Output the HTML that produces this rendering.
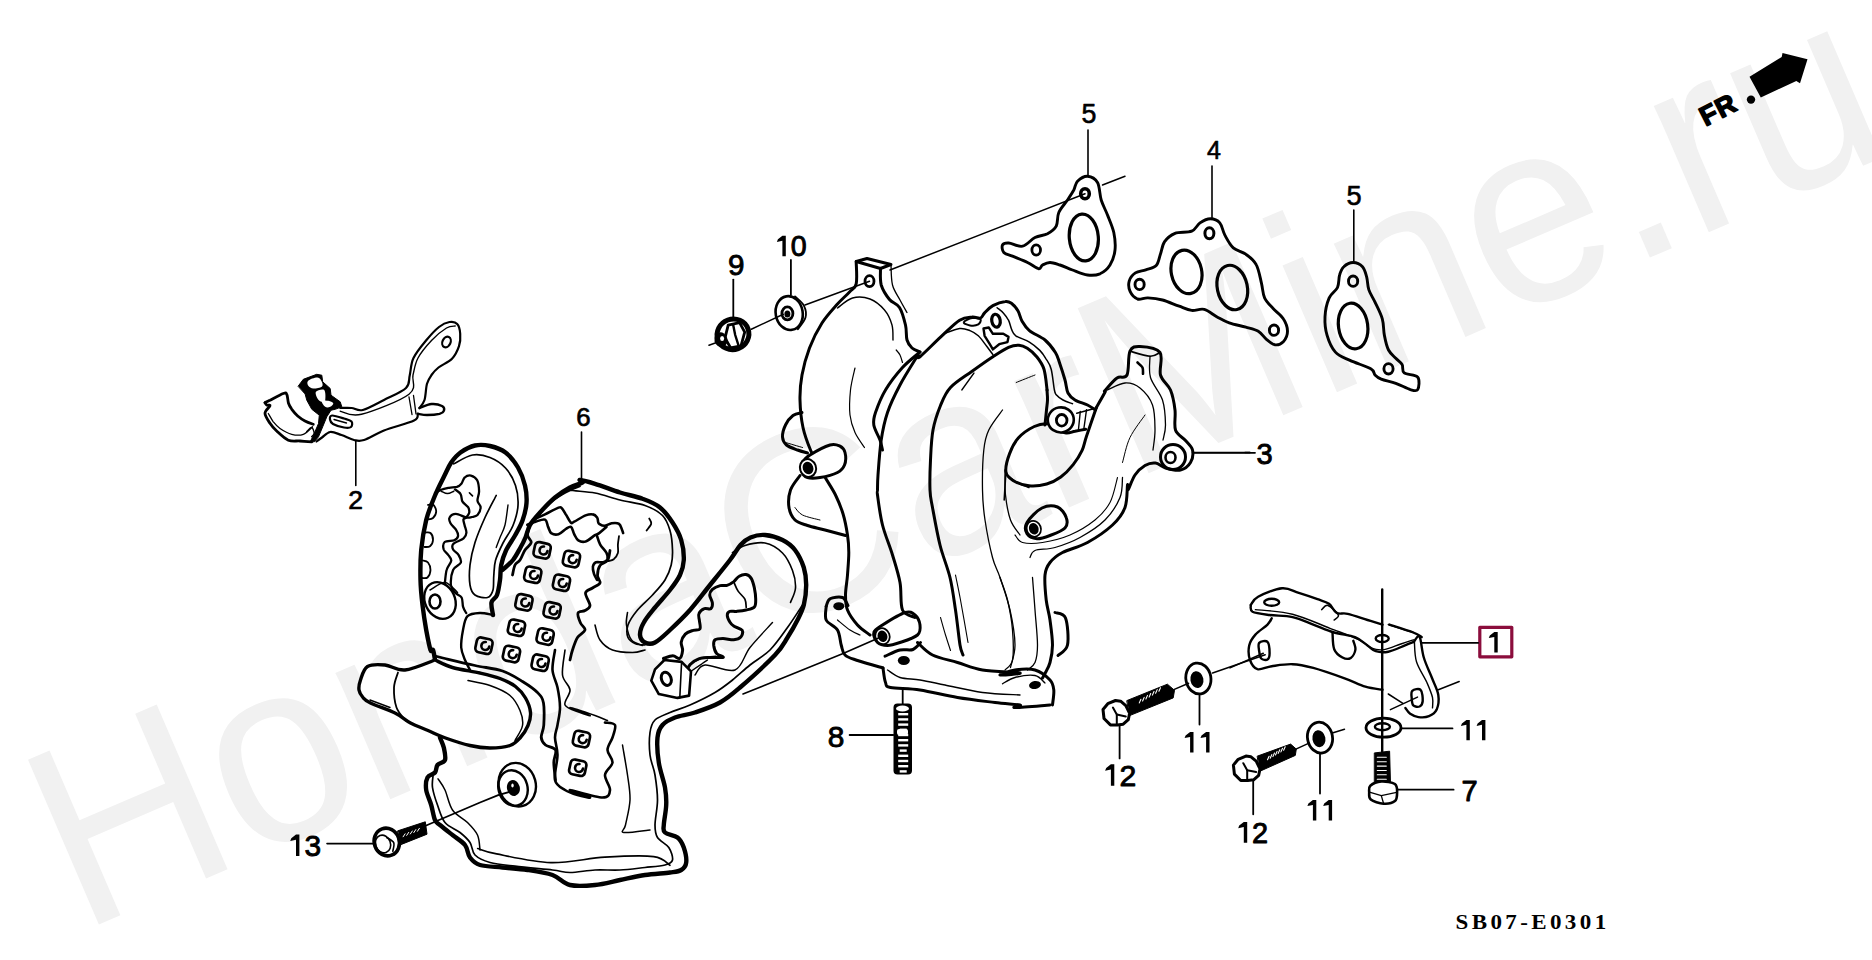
<!DOCTYPE html>
<html><head><meta charset="utf-8"><style>
html,body{margin:0;padding:0;background:#fff;width:1872px;height:960px;overflow:hidden}
svg{display:block}
text{font-family:"Liberation Sans",sans-serif;fill:#000;stroke:none}
</style></head><body>
<svg width="1872" height="960" viewBox="0 0 1872 960">
<rect width="1872" height="960" fill="#fff"/>
<g fill="none" stroke="#000" stroke-linecap="round" stroke-linejoin="round">
<g id="watermark"><text x="0" y="0" font-size="250.7" style="fill:#f1f1f1" transform="translate(80,932.7) rotate(-23.27) scale(1,1.04)">HondaCarMine.ru</text></g>
<g id="misc"><text x="1089" y="123" font-size="26.8" text-anchor="middle" style="stroke:#000;stroke-width:0.6">5</text>
<text x="1214" y="159" font-size="25.1" text-anchor="middle" style="stroke:#000;stroke-width:0.6">4</text>
<text x="1354" y="204.5" font-size="27.2" text-anchor="middle" style="stroke:#000;stroke-width:0.6">5</text>
<line x1="1088" y1="130" x2="1088" y2="176" stroke-width="1.6"/>
<line x1="1212" y1="166" x2="1212" y2="219" stroke-width="1.6"/>
<line x1="1353.8" y1="210" x2="1353.8" y2="263" stroke-width="1.6"/>
<text x="0" y="0" transform="translate(1455.5,928.6) scale(1.15,1)" style="font-family:'Liberation Serif',serif;font-weight:bold;font-size:20px;letter-spacing:2.95px">SB07-E0301</text>
<path d="M1749.5 76.7 L1781.7 57 L1782.5 53 L1807.5 59.2 L1800 83.3 L1796.3 81 L1760.8 97.5Z" fill="#000" stroke="none"/>
<text x="0" y="0" font-size="27" transform="translate(1705.5,126.5) rotate(-27)" style="font-weight:bold;stroke:#000;stroke-width:1.6;letter-spacing:1px">FR</text>
<ellipse cx="1751" cy="99.6" rx="4.2" ry="4.2" fill="#000" stroke="none"/></g>
<g id="gaskets"><path d="M1087.5 176.2C1090.8 176.5 1095.2 178.5 1097.5 182.5C1099.8 186.5 1099.6 194.6 1101.2 200C1102.9 205.4 1105.4 209.6 1107.5 215C1109.6 220.4 1112.5 226.7 1113.8 232.5C1115 238.3 1115.6 244.6 1115 250C1114.4 255.4 1112.5 261 1110 265C1107.5 269 1103.8 272.1 1100 273.8C1096.2 275.4 1092.1 275.6 1087.5 275C1082.9 274.4 1077.1 271.7 1072.5 270C1067.9 268.3 1063.8 266.2 1060 265C1056.2 263.8 1052.9 262.5 1050 262.5C1047.1 262.5 1044.4 264 1042.5 265C1040.6 266 1041.2 269.2 1038.8 268.8C1036.2 268.3 1031.9 264.6 1027.5 262.5C1023.1 260.4 1016.5 257.9 1012.5 256.2C1008.5 254.6 1005.4 254.4 1003.8 252.5C1002.1 250.6 1001.7 246.6 1002.5 245C1003.3 243.4 1005.4 242.8 1008.8 243C1012.1 243.2 1018.1 247.2 1022.5 246.2C1026.9 245.3 1030.8 239.6 1035 237.5C1039.2 235.4 1044 235.6 1047.5 233.8C1051 231.9 1054.4 229.8 1056.2 226.2C1058.1 222.7 1056.9 216.9 1058.8 212.5C1060.6 208.1 1065 203.8 1067.5 200C1070 196.2 1072.1 193.1 1073.8 190C1075.4 186.9 1075.2 183.5 1077.5 181.2C1079.8 179 1084.2 176 1087.5 176.2Z" stroke-width="2.9"/>
<ellipse cx="1083.8" cy="237.5" rx="14.5" ry="23.5" stroke-width="3.2" transform="rotate(-5 1083.8 237.5)"/>
<ellipse cx="1085" cy="193.8" rx="4.3" ry="5" stroke-width="3.6"/>
<ellipse cx="1036.2" cy="250" rx="4.3" ry="5.2" stroke-width="2.8"/>
<path d="M1210.4 218.8C1213.7 218.8 1217.4 220.1 1219.8 222.9C1222.2 225.7 1222.7 231.2 1225 235.4C1227.3 239.6 1229.9 244.8 1233.3 247.9C1236.8 251 1242 251.4 1245.8 254.2C1249.7 256.9 1253.6 259.7 1256.2 264.6C1258.9 269.4 1260.1 277.8 1261.5 283.3C1262.8 288.9 1262.7 293.8 1264.6 297.9C1266.5 302.1 1269.8 304.9 1272.9 308.3C1276 311.8 1280.9 314.9 1283.3 318.8C1285.8 322.6 1287.5 327.4 1287.5 331.2C1287.5 335.1 1285.4 339.4 1283.3 341.7C1281.2 343.9 1277.8 345.1 1275 344.8C1272.2 344.4 1269.4 341.8 1266.7 339.6C1263.9 337.3 1261.8 333.3 1258.3 331.2C1254.9 329.2 1250.7 328.5 1245.8 327.1C1241 325.7 1234 324.7 1229.2 322.9C1224.3 321.2 1220.8 318.9 1216.7 316.7C1212.5 314.4 1208.3 310.4 1204.2 309.4C1200 308.3 1195.8 310.9 1191.7 310.4C1187.5 309.9 1184 308 1179.2 306.2C1174.3 304.5 1167.7 301.4 1162.5 300C1157.3 298.6 1152.1 298.1 1147.9 297.9C1143.8 297.7 1140.5 300 1137.5 299C1134.5 297.9 1131.6 294.6 1130.2 291.7C1128.8 288.7 1128.3 284.4 1129.2 281.2C1130 278.1 1132.6 274.8 1135.4 272.9C1138.2 271 1142.4 271 1145.8 269.8C1149.3 268.6 1153.8 268.2 1156.2 265.6C1158.7 263 1159 258.2 1160.4 254.2C1161.8 250.2 1162.2 245.1 1164.6 241.7C1167 238.2 1170.5 235.1 1175 233.3C1179.5 231.6 1187.5 233 1191.7 231.2C1195.8 229.5 1196.9 225 1200 222.9C1203.1 220.8 1207.1 218.8 1210.4 218.8Z" stroke-width="2.9"/>
<ellipse cx="1209.4" cy="233.3" rx="4.5" ry="5.5" stroke-width="3"/>
<ellipse cx="1139.6" cy="284.4" rx="4.6" ry="5.2" stroke-width="2.9"/>
<ellipse cx="1274" cy="330.2" rx="4.6" ry="5.2" stroke-width="2.9"/>
<ellipse cx="1186.5" cy="271.9" rx="15.2" ry="22" stroke-width="3.2" transform="rotate(-12 1186.5 271.9)"/>
<ellipse cx="1232.3" cy="287.5" rx="15" ry="22.5" stroke-width="3.2" transform="rotate(-12 1232.3 287.5)"/>
<path d="M1353.1 262.5C1356.2 262.5 1360.2 264.2 1362.5 266.7C1364.8 269.1 1365.6 273.3 1366.7 277.1C1367.7 280.9 1367.4 285.4 1368.8 289.6C1370.1 293.8 1372.7 297.2 1375 302.1C1377.3 306.9 1380.7 313.2 1382.3 318.8C1383.9 324.3 1383.3 330.2 1384.4 335.4C1385.4 340.6 1386.6 346.2 1388.5 350C1390.5 353.8 1393.6 355.9 1395.8 358.3C1398.1 360.8 1400.7 362.2 1402.1 364.6C1403.5 367 1401.6 370.8 1404.2 372.9C1406.8 375 1415.5 374.3 1417.7 377.1C1420 379.9 1418.9 387.5 1417.7 389.6C1416.5 391.7 1414.1 390.6 1410.4 389.6C1406.8 388.5 1400.7 385.1 1395.8 383.3C1391 381.6 1384.7 380.6 1381.2 379.2C1377.8 377.8 1376.7 376.7 1375 375C1373.3 373.3 1375 371.2 1370.8 368.8C1366.7 366.3 1355.9 363.2 1350 360.4C1344.1 357.6 1339.2 356.3 1335.4 352.1C1331.6 347.9 1328.8 341.3 1327.1 335.4C1325.3 329.5 1324.7 322.9 1325 316.7C1325.3 310.4 1327.1 302.8 1329.2 297.9C1331.2 293.1 1335.8 291.3 1337.5 287.5C1339.2 283.7 1338.5 278.5 1339.6 275C1340.6 271.5 1341.5 268.8 1343.8 266.7C1346 264.6 1350 262.5 1353.1 262.5Z" stroke-width="2.9"/>
<ellipse cx="1353.1" cy="281.2" rx="4.6" ry="5.2" stroke-width="2.9"/>
<ellipse cx="1388.5" cy="368.8" rx="4.6" ry="5.2" stroke-width="2.9"/>
<ellipse cx="1353.1" cy="326" rx="14.6" ry="23" stroke-width="3.2" transform="rotate(-8 1353.1 326)"/></g>
<g id="part2"><path d="M340.2 408C342.1 408 347.8 407.7 351.5 408C355.2 408.3 357.3 411.3 362.8 410C368.2 408.7 376.8 403.7 384 400C391.2 396.3 401.7 392.2 406 388C410.3 383.8 408.5 380 409.8 375C411 370 410.7 363.8 413.5 358C416.3 352.2 422.2 345.2 426.5 340C430.8 334.8 435.2 330 439 327C442.8 324 446.5 322.5 449.5 322C452.5 321.5 455.5 322 457.2 324C459 326 460 330 460.2 333.8C460.5 337.5 460.4 342.1 459 346.2C457.6 350.4 455.4 355.2 452 358.8C448.6 362.3 441.9 364.8 438.5 367.5C435.1 370.2 433.4 372.3 431.5 375C429.6 377.7 428.2 379.6 427 383.8C425.8 387.9 425.8 396 424.5 400C423.2 404 420.3 406.7 419.5 408" stroke-width="2.2"/>
<path d="M419.5 408C421.5 407.3 427.8 404.3 431.5 404C435.2 403.7 439.9 404.9 442 406C444.1 407.1 444.4 409.2 444 410.5C443.6 411.8 442.3 413 439.5 413.8C436.7 414.5 430.6 415 427 415C423.4 415 419.3 414 417.8 413.8" stroke-width="2.4"/>
<path d="M417.8 413.8C417.1 414.9 419.6 417.7 414 420.5C408.4 423.3 392.3 427.2 384 430.5C375.7 433.8 369 438.4 364 440C359 441.6 357.8 440.8 354 440C350.2 439.2 345.5 436.3 341.5 435C337.5 433.7 333.5 431.6 330.2 432C327 432.4 324.3 435.9 322 437.5C319.7 439.1 317.4 440.8 316.5 441.5" stroke-width="2.2"/>
<path d="M340.2 411.2C343.8 411.8 350 417.1 361.5 414.2C373 411.4 400.4 400.8 409 394.2C417.6 387.7 411.5 381 413 375C414.5 369 414.9 363.8 418 358C421.1 352.2 426.8 345.5 431.5 340.5C436.2 335.5 442.5 330.4 446.5 328C450.5 325.6 453.8 326.3 455.2 326" stroke-width="1.4"/>
<path d="M409 397C409.5 399.9 411.5 411.6 412 414.5" stroke-width="1.3"/>
<path d="M413.5 395.5C413.9 398.5 415.6 410.7 416 413.8" stroke-width="1.3"/>
<ellipse cx="446.5" cy="342" rx="4" ry="5.5" stroke-width="2.2" transform="rotate(25 446.5 342)"/>
<path d="M265 402.7C265.8 402.2 266.9 401.7 270 400.2C273.1 398.6 280.5 394.5 283.3 393.5C286.1 392.5 286 392.7 286.8 394.3C287.7 396 287.7 400.8 288.5 403.3C289.3 405.8 290.3 407.2 291.8 409.3C293.4 411.4 295.5 414.1 297.7 416C299.9 417.9 302.4 419.6 305 421C307.6 422.4 311.9 423.8 313.3 424.3" stroke-width="2.8"/>
<path d="M265 402.7C265.3 403.1 265.8 404.5 266.7 405C267.5 405.5 270.3 404.4 270 405.8C269.7 407.2 265 410.4 265 413.3C265 416.2 268.1 420.4 270 423.3C271.9 426.3 273.6 428.2 276.7 431C279.7 433.8 284.4 438.5 288.3 440.2C292.2 441.8 296.1 440.7 300 441C303.9 441.3 309.7 441.7 311.7 441.8" stroke-width="2.8"/>
<path d="M268.3 413.5C269.2 414.9 271.4 419.3 273.3 421.8C275.3 424.3 276.9 426.4 280 428.5C283.1 430.6 287.8 433.4 291.7 434.3C295.6 435.3 299.9 435.6 303.3 434.3C306.8 433.1 311 428.1 312.5 426.8" stroke-width="1.3"/>
<path d="M306.7 431.7C307.5 431 310.4 427.2 311.7 427.5C312.9 427.8 314.2 431.8 314.2 433.3C314.2 434.9 312.1 436.1 311.7 436.7" stroke-width="1.4"/>
<path d="M298.3 386 L303.3 379.3 L316.7 374.3 L321.8 375.2 L322.7 381.8 L330.2 388.5 L331 395.2 L340.2 401.8 L341.8 406.8 L335.2 409.3 L331 410.2 L326.8 416.8 L322.7 426.8 L318.5 436.8 L314.3 441.8 L310.2 441.8 L313.5 435.2 L318.5 423.5 L319.3 415.2 L311.8 409.3 L306.8 400.2 L305.2 394.3Z" fill="#000" stroke-width="1"/>
<path d="M308.2 380.7C309.7 379.3 315.2 377.3 317.5 377.5C319.8 377.7 321.1 380.1 321.8 381.7C322.6 383.2 323.2 385.5 321.8 386.7C320.4 387.8 315.6 388.6 313.3 388.5C311.1 388.4 309.2 387.1 308.3 385.8C307.5 384.5 306.6 382.1 308.2 380.7Z" fill="#fff" stroke="none"/>
<path d="M316 391.8C317.1 390.4 322.6 388.6 324.2 390C325.7 391.4 325.6 398.2 325.2 400.2C324.8 402.1 322.9 402.1 321.7 401.8C320.4 401.6 318.4 400.2 317.5 398.5C316.6 396.8 314.9 393.2 316 391.8Z" fill="#fff" stroke="none"/>
<path d="M321.8 401C322.5 400 327.2 400.6 329.2 401C331.1 401.4 333.2 402.5 333.3 403.5C333.5 404.5 331.5 406.3 330.2 406.8C328.8 407.4 326.6 407.8 325.2 406.8C323.8 405.9 321.2 402 321.8 401Z" fill="#fff" stroke="none"/>
<path d="M307.9 391.2 L311.7 400.8" stroke-width="1.2"/>
<path d="M332 415.5C334.3 415.3 340.8 417.5 344 418.5C347.2 419.5 350.3 420.1 351.5 421.5C352.7 422.9 352.2 426 351 427C349.8 428 347 428 344 427.5C341 427 335.3 425.3 333 424C330.7 422.7 330.2 420.9 330 419.5C329.8 418.1 329.7 415.7 332 415.5Z" stroke-width="2.2"/>
<path d="M334 419.5C336.1 420.1 344.4 422.4 346.5 423" stroke-width="1.3"/>
<line x1="355.8" y1="440.5" x2="355.8" y2="485.5" stroke-width="1.6"/>
<text x="355.5" y="509" font-size="26.5" text-anchor="middle" style="stroke:#000;stroke-width:0.7">2</text></g>
<g id="manifold"><path d="M856.2 261.5 L867 258.5 L891 264.5 L880.5 268.5Z" stroke-width="3"/>
<path d="M856.2 261.5C856.2 265.2 857.4 278.7 856.2 283.8C855.1 288.8 852.7 288.5 849.5 292C846.3 295.5 841.6 299.3 837 304.5C832.4 309.7 826.6 315.8 822 323C817.4 330.2 812.8 339.3 809.5 348C806.2 356.7 803.6 366.3 802 375C800.4 383.7 799.8 391.2 800 400C800.2 408.8 801.2 419.2 803 427.5C804.8 435.8 807.7 443.3 810.5 450C813.3 456.7 817.5 462.8 820 467.5C822.5 472.2 822.9 473.4 825.5 478C828.1 482.6 832.6 489 835.5 495C838.4 501 841 507.1 843 513.8C845 520.4 846.5 528.5 847.5 535C848.5 541.5 848.8 545.8 848.8 552.5C848.8 559.2 848 567.9 847.5 575C847 582.1 845.5 589.2 845.5 595C845.5 600.8 845.5 605 847.5 610C849.5 615 853.8 620.8 857.5 625C861.2 629.2 867.9 633.3 870 635" stroke-width="3"/>
<path d="M880.5 268.5C880.6 271.2 879.8 279.8 881.2 285C882.8 290.2 886.5 295.8 889.5 299.5C892.5 303.2 896.8 303.2 899.5 307.5C902.2 311.8 904.2 319.6 905.5 325C906.8 330.4 905.9 336.2 907 340C908.1 343.8 909.8 346 912 348C914.2 350 918.7 351.3 920 352" stroke-width="3"/>
<path d="M891 264.5C891.2 267.9 891 279.1 892.5 285C894 290.9 897.6 295.4 900 300C902.4 304.6 905.8 310.4 907 312.5" stroke-width="1.3"/>
<ellipse cx="869.5" cy="281.2" rx="4.5" ry="5.5" stroke-width="2.8"/>
<path d="M837.5 308C840 306.3 847.1 299.5 852.5 298C857.9 296.5 864.7 297 870 299C875.3 301 880.8 305.7 884.5 310C888.2 314.3 890.6 320 892 325C893.4 330 892.8 337.5 893 340" stroke-width="1.4"/>
<path d="M896.2 350C896.9 350.8 899 352.9 900 355C901 357.1 902.1 361.2 902.5 362.5" stroke-width="1.2"/>
<path d="M855 368C854.2 371.7 851.3 382.2 850.5 390C849.7 397.8 849.2 407.9 850 415C850.8 422.1 852.6 427.1 855 432.5C857.4 437.9 862.9 445 864.5 447.5" stroke-width="1.2"/>
<path d="M920 352C917.1 354.6 908.2 361.2 902.5 367.5C896.8 373.8 890 382.5 885.5 390C881 397.5 877.5 406.7 875.5 412.5C873.5 418.3 873 420.4 873.8 425C874.5 429.6 878.5 435.8 880 440C881.5 444.2 882.1 448.3 882.5 450" stroke-width="3"/>
<path d="M802 412.5C800.5 413 795.8 413.4 793 415.5C790.2 417.6 787.2 421.4 785.5 425C783.8 428.6 782.3 433.7 782.5 437C782.7 440.3 784 442.8 786.5 445C789 447.2 794 448.7 797.5 450C801 451.3 805.8 452.5 807.5 453" stroke-width="3"/>
<path d="M785.5 442.5C788.3 443.3 799.7 446.7 802.5 447.5" stroke-width="1"/>
<path d="M802.5 462.5C803.9 459.8 805.4 457.9 810 455C814.6 452.1 825 446.5 830 445C835 443.5 837.5 445 840 446.2C842.5 447.5 844.2 449.4 845 452.5C845.8 455.6 845.8 461.7 844.5 465C843.2 468.3 841.6 470.4 837.5 472.5C833.4 474.6 825 476.7 820 477.5C815 478.3 810.6 478.5 807.5 477.5C804.4 476.5 802.3 473.8 801.5 471.2C800.7 468.8 801.1 465.2 802.5 462.5Z" fill="#fff" stroke-width="3"/>
<ellipse cx="808" cy="468" rx="9" ry="10" fill="#000" stroke="none" transform="rotate(-20 808 468)"/>
<ellipse cx="808" cy="468" rx="7" ry="8" fill="#fff" stroke="none" transform="rotate(-20 808 468)"/>
<ellipse cx="808" cy="468" rx="5.3" ry="6.3" fill="#000" stroke="none" transform="rotate(-20 808 468)"/>
<path d="M800 475.5C798.4 477.9 792.3 484.7 790.5 490C788.7 495.3 788.2 502.5 789 507.5C789.8 512.5 791.9 517 795 520C798.1 523 802.5 523.8 807.5 525.5C812.5 527.2 818.7 528.3 825 530C831.3 531.7 842.1 534.6 845.5 535.5" stroke-width="3"/>
<path d="M795 507.5C796.2 508.8 798.3 512.9 802.5 515C806.7 517.1 817.1 519.2 820 520" stroke-width="1"/>
<path d="M918 355C918.3 355.3 916.2 359.7 920 356.7C923.8 353.6 934.2 343 940.8 336.9C947.4 330.8 954.4 323.5 959.6 320.2C964.8 316.9 968.6 317.4 972.1 317.1C975.6 316.7 978.3 318.8 980.4 318.1C982.5 317.4 982.5 315 984.6 312.9C986.7 310.8 989.4 307.5 992.9 305.6C996.4 303.7 1002.3 301.8 1005.4 301.5C1008.5 301.1 1009.6 302 1011.7 303.5C1013.8 305.1 1016.2 307.9 1017.9 310.8C1019.7 313.8 1020.2 318 1022.1 321.2C1024 324.5 1025.6 327.5 1029.4 330.6C1033.2 333.8 1040.7 336.4 1045 340C1049.3 343.6 1053 348.7 1055.4 352.5C1057.8 356.3 1058 358.3 1059.6 362.9C1061.2 367.5 1063.6 375 1065 380C1066.4 385 1066.3 389.7 1068 393C1069.7 396.3 1071.8 398 1075 400C1078.2 402 1084.1 403.3 1087.5 405C1090.9 406.7 1094.2 409.2 1095.5 410" stroke-width="3"/>
<path d="M963.8 322.3C964.1 321.1 969.3 318.6 972.1 318.1C974.9 317.6 979.4 318.1 980.4 319.2C981.5 320.2 980.1 323.3 978.3 324.4C976.6 325.4 972.4 325.8 970 325.4C967.6 325.1 963.4 323.5 963.8 322.3Z" stroke-width="2"/>
<path d="M944 333.8C946.6 332.9 955.2 329.1 959.6 328.5C963.9 328 966.9 329.4 970 330.6C973.1 331.8 975.6 333.2 978.3 335.8C981.1 338.4 984.2 343.1 986.7 346.2C989.1 349.4 991.9 353.2 992.9 354.6" stroke-width="1.5"/>
<path d="M997.1 307.7C998.1 308.6 1001.4 310.8 1003.3 312.9C1005.2 315 1007.2 317.4 1008.5 320.2C1009.9 323 1010.5 327 1011.7 329.6C1012.9 332.2 1012.9 333.8 1015.8 335.8C1018.8 337.9 1025.4 339.7 1029.4 342.1C1033.4 344.5 1037 347.6 1039.8 350.4C1042.6 353.2 1044.1 355.6 1046 358.8C1048 361.9 1049.9 364 1051.2 369.2C1052.6 374.4 1053.5 385.7 1054.4 390C1055.2 394.3 1055.1 393.3 1056.5 395C1057.9 396.7 1060.3 398.5 1063 400C1065.7 401.5 1070.9 403.1 1072.5 403.8" stroke-width="1.5"/>
<ellipse cx="996" cy="320.7" rx="4.2" ry="6.5" stroke-width="3.2" transform="rotate(-10 996 320.7)"/>
<path d="M983.5 328.5 L988.8 327.5 L992.9 333.8 L1003.3 333.8 L1008.5 336.9 L1007.5 342.1 L999.2 344.2 L992.9 349.4 L989.8 344.2 L984.6 335.8Z" stroke-width="2.4"/>
<path d="M918 355C915 360 905.1 375.4 900 385C894.9 394.6 890.6 403.3 887.5 412.5C884.4 421.7 882.8 429.6 881.2 440C879.7 450.4 878.6 466.7 878 475C877.4 483.3 877.6 486.7 877.5 490C877.4 493.3 876.7 489.2 877.5 495C878.3 500.8 880 515 882.5 525C885 535 889.6 545.4 892.5 555C895.4 564.6 898.3 573.3 900 582.5C901.7 591.7 900 604.2 902.5 610C905 615.8 912.9 616.2 915 617.5" stroke-width="3"/>
<path d="M1047.1 390C1046.6 386.5 1045.7 374.7 1044 369.2C1042.2 363.6 1039.4 360.1 1036.7 356.7C1033.9 353.2 1030.2 350.2 1027.3 348.3C1024.3 346.4 1022.1 345.4 1019 345.2C1015.8 345 1012.9 345.4 1008.5 347.3C1004.2 349.2 999 352.7 992.9 356.7C986.8 360.7 979.2 366.1 972.1 371.2C965 376.4 955.8 381.8 950.5 387.5C945.2 393.2 943.4 398.4 940.5 405.5C937.6 412.6 934.7 420.9 933 430C931.3 439.1 931 450 930.5 460C930 470 929.7 482.1 930 490C930.3 497.9 930.8 498.3 932.5 507.5C934.2 516.7 937.1 533.3 940 545C942.9 556.7 947.4 566.7 950 577.5C952.6 588.3 953.8 598.8 955.5 610C957.2 621.2 958.8 637.5 960 645C961.2 652.5 962.5 653.3 963 655" stroke-width="3"/>
<path d="M961.8 390C963.8 387.2 972 375.8 974 373" stroke-width="1.3"/>
<path d="M1002.5 410C1000.2 413.3 991.9 423.3 988.8 430C985.6 436.7 984.8 440 983.8 450C982.7 460 982.3 478.3 982.5 490C982.7 501.7 983.3 508.8 985 520C986.7 531.2 990 547.9 992.5 557.5C995 567.1 997.1 568.8 1000 577.5C1002.9 586.2 1007.5 598.8 1010 610C1012.5 621.2 1014.9 635.4 1015 645C1015.1 654.6 1011.2 663.8 1010.5 667.5" stroke-width="1.3"/>
<path d="M1005 470C1005.1 474.2 1004.6 486.7 1005.5 495C1006.4 503.3 1008.1 513.3 1010.5 520C1012.9 526.7 1018.4 532.5 1020 535" stroke-width="1.3"/>
<path d="M955.5 575C956.3 579.2 958.4 588.8 960.5 600C962.6 611.2 966.8 635.4 968 642.5" stroke-width="1.1"/>
<path d="M940.5 617.5C941.3 620.4 943.8 629.5 945.5 635C947.2 640.5 949.7 647.9 950.5 650.5" stroke-width="1.1"/>
<path d="M1047 390C1047.1 391.7 1047.6 396.7 1047.5 400C1047.4 403.3 1046.9 405.8 1046.5 410C1046.1 414.2 1045.2 422.5 1045 425" stroke-width="3"/>
<path d="M1016.2 382.5C1019.4 381.2 1031.9 376.2 1035 375" stroke-width="1"/>
<path d="M1096.2 407.9C1094.6 412.6 1088.9 429.2 1086.5 436.2C1084.1 443.3 1084.3 445.7 1082.1 450.4C1079.9 455.1 1076.8 460.1 1073.2 464.6C1069.7 469 1065.2 473.7 1060.8 477C1056.4 480.2 1052 482.6 1046.7 484C1041.3 485.5 1034.6 486.4 1029 485.8C1023.3 485.2 1016.9 482.9 1013 480.5C1009.2 478.1 1006.5 476.1 1005.9 471.6C1005.3 467.2 1007.4 459.5 1009.5 453.9C1011.5 448.3 1014.2 442.6 1018.3 438C1022.5 433.4 1029.2 428.9 1034.3 426.5C1039.3 424.1 1044.9 423.4 1048.4 423.8C1052 424.3 1052.6 427.6 1055.5 429.2C1058.5 430.7 1062.9 432.7 1066.1 433C1069.4 433.4 1071.7 431.9 1075 431.3C1078.2 430.6 1083.8 429.5 1085.6 429.2" stroke-width="3"/>
<path d="M1005.9 471.6C1005.6 476.4 1004.5 495.3 1004.2 500" stroke-width="1.6"/>
<path d="M1007.7 475.2C1009.2 476.4 1013 480.2 1016.6 482.3C1020.1 484.3 1026.9 486.7 1029 487.6" stroke-width="1.4"/>
<ellipse cx="1060.8" cy="419.9" rx="13" ry="12.5" fill="#fff" stroke-width="2.6" transform="rotate(-10 1060.8 419.9)"/>
<ellipse cx="1061.7" cy="420.3" rx="5.3" ry="5.8" stroke-width="2.8"/>
<path d="M1076.8 413.2C1079.6 412.5 1090.8 409.5 1093.6 408.8" stroke-width="1.6"/>
<path d="M1080.3 411.4C1080 414.4 1078.8 426.2 1078.5 429.2" stroke-width="1.4"/>
<path d="M1086.5 409.7C1086.1 412.9 1084.3 425.9 1083.8 429.2" stroke-width="1.4"/>
<path d="M1096.2 407.9C1097.7 405.2 1103.6 394.9 1105.1 392C1106.5 389.1 1103 392.8 1105 390.5C1107 388.2 1113.3 380.6 1117 378C1120.7 375.4 1124.8 379.5 1127 375C1129.2 370.5 1127.8 356 1130 351.2C1132.2 346.5 1135 346.3 1140 346.5C1145 346.7 1156.6 347.8 1160 352.5C1163.4 357.2 1158.8 368.8 1160.5 375C1162.2 381.2 1168.1 384.2 1170.5 390C1172.9 395.8 1174.2 403.3 1175 410C1175.8 416.7 1173.8 424.9 1175.5 430C1177.2 435.1 1182.7 437.2 1185.5 440.5C1188.3 443.8 1191.7 446.3 1192.5 450C1193.3 453.7 1192.5 459.2 1190.5 462.5C1188.5 465.8 1184.7 469.1 1180.5 470C1176.3 470.9 1169.7 469.2 1165.5 468C1161.3 466.8 1158.9 463.4 1155.5 463C1152.1 462.6 1148.4 463.5 1145 465.5C1141.6 467.5 1137.8 470.9 1135 475C1132.2 479.1 1129.2 488.3 1128 490C1126.8 491.7 1128 482.1 1127.5 485C1127 487.9 1127.5 500.8 1125 507.5C1122.5 514.2 1118.8 519.2 1112.5 525C1106.2 530.8 1095.8 537.9 1087.5 542.5C1079.2 547.1 1068.8 549.2 1062.5 552.5C1056.2 555.8 1052.9 558.8 1050 562.5C1047.1 566.2 1045.6 568.8 1045 575C1044.4 581.2 1045.4 592.5 1046.2 600C1047.1 607.5 1049 612.5 1050 620C1051 627.5 1052.5 637.9 1052.5 645C1052.5 652.1 1051.2 657.9 1050 662.5C1048.8 667.1 1046.8 669.9 1045.5 672.5C1044.2 675.1 1043 677.1 1042.5 678" stroke-width="3"/>
<path d="M1130 351.2C1133.3 352.1 1145 356 1150 356.2C1155 356.5 1158.3 353.1 1160 352.5" stroke-width="1.6"/>
<path d="M1150 356.2C1150.1 359.8 1148.4 370.2 1150.5 377.5C1152.6 384.8 1160 392.1 1162.5 400C1165 407.9 1165.4 418.3 1165.5 425C1165.6 431.7 1163.4 437.5 1163 440" stroke-width="1.3"/>
<path d="M1137.5 362.5C1138.3 363.3 1141.6 365.6 1142.5 367.5C1143.4 369.4 1142.9 372.7 1143 373.8" stroke-width="2.6"/>
<path d="M1107.5 390C1110.4 388.8 1119.6 383.3 1125 383C1130.4 382.7 1135.4 384.3 1140 388C1144.6 391.7 1150 398 1152.5 405C1155 412 1154.9 422.5 1155 430C1155.1 437.5 1153.3 446.7 1153 450" stroke-width="1.3"/>
<path d="M1145 415C1142.5 418.8 1133.8 429.6 1130 437.5C1126.2 445.4 1123.8 458.3 1122.5 462.5" stroke-width="1"/>
<path d="M1122.5 477.5C1122.1 480.8 1122.9 490.4 1120 497.5C1117.1 504.6 1111.7 513.3 1105 520C1098.3 526.7 1088.3 532.9 1080 537.5C1071.7 542.1 1062.5 545.3 1055 547.5C1047.5 549.7 1039.2 548.8 1035 550.5C1030.8 552.2 1030.8 556.3 1030 557.5" stroke-width="1.3"/>
<path d="M1117.5 477.5C1116.2 481.7 1113.8 495.4 1110 502.5C1106.2 509.6 1101.7 514.6 1095 520C1088.3 525.4 1078.8 531.2 1070 535C1061.2 538.8 1050.4 541.2 1042.5 542.5C1034.6 543.8 1027.1 543.8 1022.5 542.5C1017.9 541.2 1016.2 536.2 1015 535" stroke-width="1.1"/>
<ellipse cx="1173" cy="457" rx="12.5" ry="12.5" stroke-width="3"/>
<ellipse cx="1170.5" cy="457.5" rx="5" ry="5.5" stroke-width="2.6"/>
<path d="M1027 522.5C1029.5 518.2 1036.9 510.6 1042 508C1047.1 505.4 1053.5 505.4 1057.5 507C1061.5 508.6 1065 514 1066.2 517.5C1067.5 521 1067.7 525 1065 528C1062.3 531 1054.7 533.7 1050 535.5C1045.3 537.3 1040.8 539 1037 538.8C1033.2 538.5 1028.7 536.5 1027 533.8C1025.3 531 1024.5 526.8 1027 522.5Z" stroke-width="3"/>
<ellipse cx="1033.8" cy="528.8" rx="8" ry="9" fill="#000" stroke="none" transform="rotate(-20 1033.8 528.8)"/>
<ellipse cx="1033.8" cy="528.8" rx="6.2" ry="7.2" fill="#fff" stroke="none" transform="rotate(-20 1033.8 528.8)"/>
<ellipse cx="1033.8" cy="528.8" rx="4.8" ry="5.8" fill="#000" stroke="none" transform="rotate(-20 1033.8 528.8)"/>
<path d="M1000 577.5C1001.2 581.2 1005.4 591.2 1007.5 600C1009.6 608.8 1011.7 620 1012.5 630C1013.3 640 1013.8 653.3 1012.5 660C1011.2 666.7 1006.2 668.3 1005 670" stroke-width="1.3"/>
<path d="M1032.5 577.5C1032.9 582.9 1034.2 598.8 1035 610C1035.8 621.2 1037.5 636.2 1037.5 645C1037.5 653.8 1036.7 658.3 1035 662.5C1033.3 666.7 1028.8 668.8 1027.5 670" stroke-width="1.3"/>
<path d="M1055 612.5C1056.8 613.4 1063.4 612.6 1065.5 618C1067.6 623.4 1068.8 638.8 1067.5 645C1066.2 651.2 1059.6 653.8 1058 655.5" stroke-width="3"/>
<path d="M826.2 606.2C826.9 605 827.3 600.2 830 598.8C832.7 597.3 839.5 596.4 842.5 597.5C845.5 598.6 847.1 604.2 848 605.5" stroke-width="3"/>
<ellipse cx="838.8" cy="606.2" rx="5.5" ry="4" fill="#000" stroke="none"/>
<path d="M826.2 606.2C826.2 608.5 824.4 616 826.2 620C828.1 624 835 625.8 837.5 630C840 634.2 840 640.8 841.2 645C842.5 649.2 842.3 652.4 845 655C847.7 657.6 851.2 658.3 857.5 660.5C863.8 662.7 878.8 666.8 883 668" stroke-width="3"/>
<path d="M837.5 620C839.6 621.7 846.2 627.5 850 630C853.8 632.5 858.3 634.2 860 635" stroke-width="1.2"/>
<path d="M885 656.2C887.5 655.2 895.3 651.1 900 650C904.7 648.9 909.6 650.8 913 649.5C916.4 648.2 919.2 643.7 920.5 642.5" stroke-width="3"/>
<path d="M883 668C883.4 670.4 884.2 679.2 885.5 682.5C886.8 685.8 884.8 686.2 890.5 687.5C896.2 688.8 908.8 688.3 920 690C931.2 691.7 945 695.4 957.5 697.5C970 699.6 984.6 701.2 995 702.5C1005.4 703.8 1016.7 704.2 1020 705C1023.3 705.8 1010 707.5 1015 707.5C1020 707.5 1044.2 705.4 1050 705" stroke-width="3"/>
<path d="M887.5 670C889.6 671.2 894.6 675.8 900 677.5C905.4 679.2 912.5 678.8 920 680C927.5 681.2 934.6 682.9 945 685C955.4 687.1 970 690.8 982.5 692.5C995 694.2 1013.8 694.6 1020 695" stroke-width="1.4"/>
<path d="M917.5 642.5C920 644.6 925.8 651.7 932.5 655C939.2 658.3 949.2 660 957.5 662.5C965.8 665 972.1 668.2 982.5 670C992.9 671.8 1017.1 672.2 1020 673C1022.9 673.8 1000.8 675.5 1000 675C999.2 674.5 1009.2 670.8 1015 670C1020.8 669.2 1029.2 668.3 1035 670C1040.8 671.7 1046.9 676.7 1050 680C1053.1 683.3 1053.3 685.8 1053.8 690C1054.2 694.2 1052.7 702.5 1052.5 705" stroke-width="3"/>
<path d="M1002.5 683.8C1004.6 682.7 1009.6 678.9 1015 677.5C1020.4 676.1 1030 674.6 1035 675.5C1040 676.4 1043.3 681.8 1045 683" stroke-width="1.3"/>
<ellipse cx="1035" cy="685" rx="6" ry="4" fill="#000" stroke="none" transform="rotate(-10 1035 685)"/>
<ellipse cx="903.8" cy="660.5" rx="6" ry="4.5" fill="#000" stroke="none"/>
<path d="M873.8 632.5C874.6 629.6 877.3 628.3 882.5 625C887.7 621.7 899.6 614.2 905 612.5C910.4 610.8 912.5 612.9 915 615C917.5 617.1 919.6 621.7 920 625C920.4 628.3 920.8 632.1 917.5 635C914.2 637.9 905 640.8 900 642.5C895 644.2 891.2 645.5 887.5 645.5C883.8 645.5 879.8 644.7 877.5 642.5C875.2 640.3 872.9 635.4 873.8 632.5Z" stroke-width="3"/>
<ellipse cx="882.5" cy="636.2" rx="8" ry="9" fill="#000" stroke="none" transform="rotate(-20 882.5 636.2)"/>
<ellipse cx="882.5" cy="636.2" rx="6.2" ry="7.2" fill="#fff" stroke="none" transform="rotate(-20 882.5 636.2)"/>
<ellipse cx="882.5" cy="636.2" rx="4.8" ry="5.8" fill="#000" stroke="none" transform="rotate(-20 882.5 636.2)"/>
<path d="M890 270 L1085 193.8" stroke-width="1.5"/>
<path d="M1102.5 185 L1125 176.2" stroke-width="1.5"/>
<path d="M743 694 L842.5 653.8 L882.5 636.2" stroke-width="1.6"/>
<path d="M1192.5 452.5 L1250 452.5" stroke-width="1.5"/>
<line x1="1250" y1="452.5" x2="1245" y2="452.5" stroke-width="1.5"/></g>
<g id="shield"><path d="M435 660C434.7 658.3 433.8 651.7 433 650C432.2 648.3 431.6 653.3 430.5 650C429.4 646.7 427.6 637.5 426.2 630C424.9 622.5 423.5 613.3 422.5 605C421.5 596.7 420.7 589.2 420.5 580C420.3 570.8 420.3 560 421.2 550C422.2 540 424 529.1 426.2 520C428.5 510.9 432 502.9 435 495.5C438 488.1 441.8 481 444.5 475.5C447.2 470 448.6 466.3 451.2 462.5C453.9 458.7 456.5 455.3 460.5 452.5C464.5 449.7 470.1 446.6 475 445.5C479.9 444.4 484.9 444.8 490 446C495.1 447.2 500.8 448.9 505.5 452.5C510.2 456.1 514.8 462 518 467.5C521.2 473 523.6 479.6 525 485.5C526.4 491.4 526.9 497.2 526.5 503C526.1 508.8 524.4 515.1 522.5 520.5C520.6 525.9 517.8 530.5 515 535.5C512.2 540.5 508.3 545.6 506 550.5C503.7 555.4 502.2 560.1 501.2 565C500.2 569.9 500.7 575 500 580C499.3 585 498.4 591.2 497 595C495.6 598.8 492.2 599.2 491.5 602.5C490.8 605.8 492.8 612.9 493 615" stroke-width="4.4"/>
<path d="M453.8 463.8C456.9 462.3 466.5 456 472.5 455C478.5 454 484.5 455.3 490 457.5C495.5 459.7 501.2 463.3 505.5 468C509.8 472.7 513.4 479.2 515.5 485.5C517.6 491.8 518.4 498.8 518 505.5C517.6 512.2 515.5 519.2 513 525.5C510.5 531.8 505.9 537.2 503 543C500.1 548.8 497 555.1 495.5 560.5C494 565.9 494.2 570.6 493.8 575.5C493.3 580.4 494 586.3 493 590C492 593.7 490.5 596.7 487.5 597.5C484.5 598.3 477.9 597.1 475 595C472.1 592.9 470.8 590 470 585C469.2 580 469.2 572.1 470 565C470.8 557.9 472.5 550.4 475 542.5C477.5 534.6 481.5 525.3 485 517.5C488.5 509.7 494.4 499.2 496.2 495.5" stroke-width="1.7"/>
<path d="M508 505C507.5 508.3 506.3 519.6 505 525C503.7 530.4 501.5 533.8 500 537.5C498.5 541.2 496.9 545.8 496.2 547.5" stroke-width="1.4"/>
<path d="M435 493.1C436 492.6 438.9 490.6 441.2 489.7C443.6 488.8 446.5 488.3 449.1 487.8C451.7 487.3 454.8 487.6 456.9 486.9C459 486.1 460.3 485 461.6 483.4C462.9 481.9 463.1 478.8 464.7 477.5C466.2 476.2 468.9 475.2 470.9 475.6C473 476.1 475.8 477.7 477.2 480.3C478.5 482.9 479 487.8 479.1 491.2C479.1 494.7 477.2 498.3 477.5 500.9C477.8 503.6 480.6 504.8 480.6 507.2C480.6 509.5 479 513.4 477.5 515C476 516.6 473.7 516.6 471.9 517C470 517.4 468.9 518 466.2 517.5C463.6 517 458.7 513.9 455.9 513.9C453.1 513.9 450.5 515.9 449.6 517.5C448.6 519.1 449.4 521.2 450.5 523.3C451.6 525.4 454.9 527.7 456.1 529.9C457.4 532 458.3 534.5 458 536.2C457.7 538 456.5 539.2 454.2 540.2C452 541.1 446.4 540.5 444.7 542C442.9 543.6 443.1 547.4 443.7 549.5C444.4 551.7 447.2 553.3 448.4 555.2C449.7 557 451.6 558.3 451.2 560.8C450.9 563.3 447.6 565.9 446.6 570C445.5 574 445 582.5 444.7 585" stroke-width="2.3"/>
<path d="M455 489.4C455.9 490.2 459.4 492 460.6 494.1C461.9 496.1 461.2 499.4 462.5 501.6C463.7 503.7 467 505.3 468.1 507.2C469.2 509.1 469.5 511.1 469.2 512.8C468.9 514.5 467.2 516.4 466.2 517.5C465.3 518.6 463.7 518.1 463.4 519.4C463.1 520.6 464.1 523 464.6 525.2C465 527.4 466.6 530.5 466.4 532.7C466.3 534.9 465.8 536.4 463.6 538.3C461.4 540.2 455.1 542 453.3 543.9C451.6 545.8 452.2 547.7 453.1 549.5C454 551.4 457.5 553 458.7 555.2C460 557.4 461.7 560.2 460.8 562.7C459.9 565.1 454.8 566.2 453.1 570C451.5 573.7 450.6 581.2 450.9 585C451.3 588.8 453.5 590.7 455.3 592.8C457.1 594.9 460.3 595.2 461.6 597.5C462.9 599.8 462.3 604.3 463.1 606.9C463.9 609.5 465.7 612.1 466.2 613.1" stroke-width="2.3"/>
<path d="M441.2 491.2C442.3 491.6 445.4 493.6 447.5 493.6C449.6 493.6 452.7 491.6 453.8 491.2" stroke-width="1.5"/>
<path d="M469.4 492.8C469.9 493.3 472 495.4 472.5 495.9" stroke-width="1.6"/>
<path d="M428 505C428.8 504.9 431.6 503.5 433 504.5C434.4 505.5 436.2 509 436.2 511.2C436.2 513.5 434.5 516.6 433 518C431.5 519.4 428 519.2 427 519.5" stroke-width="1.8"/>
<path d="M425.5 532.5C426.3 532.6 429.2 531.8 430.5 533C431.8 534.2 433.1 537.8 433 540C432.9 542.2 431.4 545.1 430 546.2C428.6 547.4 425.4 546.9 424.5 547" stroke-width="1.8"/>
<path d="M422.5 560.5C423.4 560.8 426.7 560.9 428 562.5C429.3 564.1 430.6 567.5 430.5 570C430.4 572.5 428.9 576.2 427.5 577.5C426.1 578.8 422.9 577.9 422 578" stroke-width="1.8"/>
<ellipse cx="440" cy="600.5" rx="15" ry="19" fill="#fff" stroke-width="2.4" transform="rotate(-25 440 600.5)"/>
<ellipse cx="435" cy="601.5" rx="5.5" ry="7" stroke-width="2.6"/>
<path d="M430 590C432.5 588.8 440.4 582.1 445 582.5C449.6 582.9 455.4 590.8 457.5 592.5" stroke-width="1.6"/>
<path d="M502.5 570C504.2 568.3 510 563.8 513 560C516 556.2 518.4 551.2 520.5 547.5C522.6 543.8 523.9 541.2 525.5 537.5C527.1 533.8 527.6 529.2 530 525C532.4 520.8 535.8 517.1 540 512.5C544.2 507.9 550 501.7 555 497.5C560 493.3 565.4 490 570 487.5C574.6 485 580.8 483.8 582.5 482.5C584.2 481.2 577.9 479.8 580 480C582.1 480.2 588.3 481.7 595 483.8C601.7 485.8 612.1 490 620 492.5C627.9 495 635.8 496.2 642.5 498.8C649.2 501.2 655 503.5 660 507.5C665 511.5 669 517.1 672.5 522.5C676 527.9 679.4 533.8 681.2 540C683.1 546.2 684 554.2 683.8 560C683.5 565.8 682.3 570 680 575C677.7 580 674.2 584.6 670 590C665.8 595.4 659.4 602.1 655 607.5C650.6 612.9 646.2 617.9 643.8 622.5C641.2 627.1 639.8 631.7 640 635C640.2 638.3 642.5 641.2 645 642.5C647.5 643.8 650.8 644.6 655 642.5C659.2 640.4 664.2 635.4 670 630C675.8 624.6 683.3 617.5 690 610C696.7 602.5 703.3 593.3 710 585C716.7 576.7 724.9 566.7 730 560C735.1 553.3 737.1 548.8 740.5 545C743.9 541.2 746.4 539.2 750.5 537.5C754.6 535.8 759.7 534.6 765 535C770.3 535.4 777.5 537.5 782.5 540C787.5 542.5 791.5 545.4 795 550C798.5 554.6 801.9 561.7 803.8 567.5C805.6 573.3 806.2 578.8 806.2 585C806.2 591.2 805.2 599.2 803.8 605C802.3 610.8 800.2 614.6 797.5 620C794.8 625.4 791.2 631.7 787.5 637.5C783.8 643.3 782.9 646.7 775 655C767.1 663.3 749.2 679.6 740 687.5C730.8 695.4 727.5 698.3 720 702.5C712.5 706.7 702.5 710 695 712.5C687.5 715 680.4 715.4 675 717.5C669.6 719.6 665.4 721.7 662.5 725C659.6 728.3 658.1 731.2 657.5 737.5C656.9 743.8 657.5 754.2 658.8 762.5C660 770.8 663.8 780.4 665 787.5C666.2 794.6 666.5 798.8 666.2 805C666 811.2 664 820.4 663.8 825C663.5 829.6 662.7 830.4 665 832.5C667.3 834.6 674.4 835 677.5 837.5C680.6 840 682.3 843.3 683.8 847.5C685.2 851.7 686.7 858.8 686.2 862.5C685.8 866.2 684 868.3 681.2 870C678.5 871.7 676 871.7 670 872.5C664 873.3 653.3 873.8 645 875C636.7 876.2 628.3 878.3 620 880C611.7 881.7 603.3 884.2 595 885C586.7 885.8 577.1 886.7 570 885C562.9 883.3 559.6 877.5 552.5 875C545.4 872.5 535.8 871.2 527.5 870C519.2 868.8 510.4 868.3 502.5 867.5C494.6 866.7 485.4 866.7 480 865C474.6 863.3 472.5 860.8 470 857.5C467.5 854.2 467.9 848.8 465 845C462.1 841.2 456.7 838.3 452.5 835C448.3 831.7 442.9 827.5 440 825C437.1 822.5 436.5 823.3 435 820C433.5 816.7 432.7 810 431.2 805C429.8 800 426.9 794.6 426.2 790C425.6 785.4 426 780.4 427.5 777.5C429 774.6 433.3 774.6 435 772.5C436.7 770.4 435.8 767.1 437.5 765C439.2 762.9 444 762.9 445 760C446 757.1 444.6 751.2 443.8 747.5C442.9 743.8 440.6 739.2 440 737.5" stroke-width="4.4"/>
<path d="M537.5 517.5C539.2 515.4 542.9 509.1 547.5 505C552.1 500.9 559.6 496.1 565 493C570.4 489.9 579.2 486.8 580 486.2C580.8 485.8 567.5 488.9 570 490C572.5 491.1 586.7 491.3 595 493C603.3 494.7 611.7 497.9 620 500C628.3 502.1 637.9 502.9 645 505.5C652.1 508.1 658.3 511.3 662.5 515.5C666.7 519.7 668.3 524.8 670 530.5C671.7 536.2 672.3 544.2 672.5 550C672.7 555.8 672.5 560 671.2 565C670 570 668.1 575 665 580C661.9 585 657.1 590 652.5 595C647.9 600 641.6 605 637.5 610C633.4 615 629.6 620.4 628 625C626.4 629.6 626.8 634.4 628 637.5C629.2 640.6 632.7 642.5 635.5 643.8C638.3 645 643.4 644.8 645 645" stroke-width="1.7"/>
<path d="M595 625C595.8 627.5 597.1 635.8 600 640C602.9 644.2 607.1 647.9 612.5 650C617.9 652.1 627.1 652.5 632.5 652.5C637.9 652.5 642.9 650.4 645 650" stroke-width="1.6"/>
<path d="M627.5 612.5C627.3 614.6 625.8 620.4 626.5 625C627.2 629.6 628.8 636.6 631.5 640C634.2 643.4 640.7 644.6 642.5 645.5" stroke-width="1.6"/>
<path d="M732.5 552.5C734.6 551.3 739.6 547.1 745 545.5C750.4 543.9 758.8 541.8 765 543C771.2 544.2 777.9 548.4 782.5 553C787.1 557.6 790.3 564.7 792.5 570.5C794.7 576.3 795.8 582.7 795.5 588C795.2 593.3 791.3 600.1 790.5 602.5" stroke-width="1.6"/>
<path d="M802.5 605C800 608.8 792.9 620 787.5 627.5C782.1 635 776.2 643.8 770 650C763.8 656.2 756.2 660 750 665C743.8 670 738.3 675.4 732.5 680C726.7 684.6 722.1 688.3 715 692.5C707.9 696.7 697.5 701.7 690 705C682.5 708.3 675.8 710 670 712.5C664.2 715 658.3 716.7 655 720C651.7 723.3 650.8 726.7 650 732.5C649.2 738.3 649.2 747.9 650 755C650.8 762.1 653.8 767.5 655 775C656.2 782.5 657.5 791.7 657.5 800C657.5 808.3 655 818.8 655 825C655 831.2 655.2 833.8 657.5 837.5C659.8 841.2 666.2 843.8 668.8 847.5C671.2 851.2 673.1 857.1 672.5 860C671.9 862.9 669.6 863.8 665 865C660.4 866.2 652.5 866.7 645 867.5C637.5 868.3 628.3 869.6 620 870C611.7 870.4 603.3 869.6 595 870C586.7 870.4 577.1 872.5 570 872.5C562.9 872.5 561.7 871 552.5 870C543.3 869 525.4 867.5 515 866.2C504.6 865 496.7 864.4 490 862.5C483.3 860.6 478.3 858.3 475 855C471.7 851.7 472.5 846.2 470 842.5C467.5 838.8 464.2 835.8 460 832.5C455.8 829.2 448.8 827.1 445 822.5C441.2 817.9 439.6 810.8 437.5 805C435.4 799.2 433.2 792.3 432.5 787.5C431.8 782.7 432.9 778.1 433 776.2" stroke-width="1.7"/>
<path d="M772.5 622.5C768.8 626.7 756.2 639.6 750 647.5C743.8 655.4 742.5 667.1 735 670C727.5 672.9 711.7 664.2 705 665C698.3 665.8 696.7 673.3 695 675" stroke-width="1.4"/>
<path d="M477.7 848.5C480.8 849.4 484.4 851.6 496.6 853.9C508.8 856.3 532.7 862 550.8 862.6C568.8 863.1 587.8 858.2 604.9 857.2C622.1 856.2 642.8 855.3 653.7 856.6C664.5 858 667.2 863.8 669.9 865.3" stroke-width="1.7"/>
<path d="M622.5 745C623.3 750 626.2 765.8 627.5 775C628.8 784.2 630.3 791.7 630 800C629.7 808.3 626.5 819.6 625.5 825C624.5 830.4 619.7 831.7 623.8 832.5C627.8 833.3 645.6 830.4 650 830" stroke-width="1.5"/>
<path d="M438 778.8C439.2 780.6 442.6 784.8 445 790C447.4 795.2 448.8 804.6 452.5 810C456.2 815.4 463.3 818.3 467.5 822.5C471.7 826.7 475.4 830.4 477.5 835C479.6 839.6 479.6 847.5 480 850" stroke-width="1.5"/>
<path d="M663.4 658.5C665 658 670.1 655.8 672.9 655.8C675.6 655.8 678 659.4 679.6 658.5C681.2 657.6 682.3 653.1 682.6 650.4C682.9 647.7 680.8 645 681.2 642.2C681.7 639.5 683.3 636.1 685.3 634.1C687.3 632.1 690.7 631.2 693.2 630.3C695.6 629.5 698.9 630.6 699.9 629C701 627.4 699.6 623.1 699.4 620.6C699.2 618.1 698 615.8 698.9 613.8C699.7 611.8 702.3 609.5 704.3 608.7C706.3 607.8 709.4 609.6 710.8 608.7C712.1 607.7 712.6 605.3 712.4 603C712.2 600.7 709.7 597.1 709.7 594.9C709.7 592.6 710.6 591 712.4 589.4C714.2 587.9 717.8 586.3 720.2 585.6C722.7 585 724.8 586.1 727 585.4C729.3 584.7 731.8 583.1 733.8 581.6C735.8 580 737.2 577.3 739.2 576.2C741.2 575 743.9 574.1 746 574.5C748 574.9 750 576.3 751.4 578.6C752.8 580.9 753.6 584.7 754.4 588.1C755.1 591.5 755.7 595.8 755.7 598.9C755.7 602.1 756 605.2 754.4 607C752.7 608.9 749 609.3 746 610C743 610.7 739.2 611.1 736.5 611.4C733.8 611.6 731.3 610.7 729.7 611.4C728.2 612 727.2 613.6 727.3 615.4C727.3 617.2 728.9 620.4 730 622.2C731.1 624 732 624.9 734.1 626.3C736.1 627.6 741.1 628.5 742.2 630.3C743.3 632.1 742.2 635.5 740.8 637.1C739.4 638.7 736.8 639.6 733.8 639.8C730.8 640 726.1 638.5 723 638.5C719.8 638.5 716.6 638.7 715.1 639.8C713.6 640.9 713.5 643 713.7 645.2C714 647.5 714.9 651.3 716.5 653.3C718 655.4 724.4 656.7 723.2 657.4C722.1 658.1 713.5 657.2 709.4 657.4C705.3 657.6 701.7 657.6 698.6 658.8C695.4 659.9 692.5 662.2 690.5 664.2C688.4 666.2 687.1 669.8 686.4 671" stroke-width="3"/>
<path d="M734.1 582.7C734.7 584.1 736.3 588.3 738.1 591.1C739.9 593.8 743.5 596.5 744.9 599.2C746.2 601.9 746 606 746.2 607.3" stroke-width="1.7"/>
<path d="M691.5 662.9C693.5 662 699.6 658.6 703.6 657.5C707.7 656.4 713.8 656.6 715.8 656.4" stroke-width="1.6"/>
<path d="M655 669.4 L664.4 660 L681.6 661.9 L691 671.3 L689.1 695.6 L677.5 697.9 L658.8 694.1 L651.3 680.6Z" fill="#fff" stroke-width="2.6"/>
<path d="M681.6 661.9 L679.8 697.9" stroke-width="1.6"/>
<ellipse cx="666.3" cy="678.8" rx="4.8" ry="6.8" stroke-width="3" transform="rotate(-20 666.3 678.8)"/>
<path d="M691 671.3C692.8 670 699.1 665.6 701.9 663.8C704.6 661.9 706.6 660.6 707.5 660" stroke-width="1.4"/>
<path d="M493 615C490.8 614.7 484.2 612.8 480 613C475.8 613.2 470.3 613.4 467.5 616.2C464.7 619.1 464 624.8 463 630C462 635.2 460.9 642.5 461.2 647.5C461.6 652.5 463.5 656.2 465 660C466.5 663.8 469.2 668.3 470 670" stroke-width="2.4"/>
<path d="M530 525C529.6 526.7 527.3 532.1 527.5 535C527.7 537.9 531.7 540 531.2 542.5C530.8 545 526.9 547.1 525 550C523.1 552.9 521.7 557.5 520 560C518.3 562.5 516.2 562.5 515 565C513.8 567.5 512.9 573.3 512.5 575" stroke-width="2.8"/>
<path d="M610 550.5C609.6 552.2 609.2 558 607.5 560.5C605.8 563 601.7 563 600 565.5C598.3 568 597.5 572.6 597.5 575.5C597.5 578.4 600.8 580.9 600 583C599.2 585.1 594.9 586.3 592.5 588C590.1 589.7 585.9 590.1 585.5 593C585.1 595.9 590.1 602.6 590 605.5C589.9 608.4 587 609.2 585 610.5C583 611.8 578.8 610.9 578 613C577.2 615.1 579.3 620.2 580.5 623C581.7 625.8 585.5 627.6 585 630C584.5 632.4 579.6 634.2 577.5 637.5C575.4 640.8 573.8 646.2 572.5 650C571.2 653.8 570.4 658.3 570 660" stroke-width="2.8"/>
<path d="M535.6 518.5C537.2 517.8 541.2 516.2 545 514.4C548.8 512.6 555.8 508.6 558.5 507.6C561.3 506.6 560.5 507 561.7 508.1C562.9 509.3 564.3 511.9 565.8 514.4C567.4 516.8 569.7 521.5 571 522.7C572.4 523.9 571.7 522.9 574.2 521.7C576.6 520.5 582.5 516.6 585.6 515.4C588.8 514.2 591 514 592.9 514.4C594.8 514.7 596.2 516.3 597.1 517.5C598 518.7 597.8 520.6 598.1 521.7C598.5 522.7 598.1 523.1 599.2 523.8C600.2 524.4 602.3 525.9 604.4 525.8C606.5 525.7 609.2 523.6 611.7 523.2C614.1 522.9 617.2 522.6 619 523.8C620.7 524.9 621.4 528.4 622.1 530C622.8 531.6 623 532.6 623.1 533.1" stroke-width="2.6"/>
<path d="M527.3 524.8C528.7 524.3 532.7 522.5 535.6 521.7C538.6 520.8 542.9 518.7 545 519.6C547.1 520.5 547.1 524.6 548.1 526.9C549.2 529.1 549.5 531.9 551.2 533.1C553 534.3 556.1 534.9 558.5 534.2C561 533.5 563.8 530.2 565.8 529C567.9 527.7 569.7 526 571 526.9C572.4 527.7 573 531.9 574.2 534.2C575.4 536.4 576.4 539.2 578.3 540.4C580.2 541.6 582.8 542.3 585.6 541.5C588.4 540.6 592.7 536.6 595 535.2C597.3 533.8 597.3 534.5 599.2 533.1C601.1 531.7 605.2 527.9 606.5 526.9" stroke-width="2.6"/>
<path d="M597.1 536.2C597.6 537.6 598.6 541.8 600.2 544.6C601.8 547.4 605.2 550.5 606.5 552.9C607.7 555.3 608 557.6 607.5 559.2C607 560.7 605.2 561.8 603.3 562.3C601.4 562.8 597.8 561.6 596 562.3C594.3 563 593.3 564.5 592.9 566.5C592.6 568.4 593.3 571.5 594 573.8C594.7 576 596.6 579 597.1 580" stroke-width="2.6"/>
<path d="M619 536.2C618.8 537.6 618.1 541.8 617.9 544.6C617.7 547.4 618.6 550.5 617.9 552.9C617.2 555.3 615.3 557.8 613.8 559.2C612.2 560.6 609.4 560.9 608.5 561.2" stroke-width="1.8"/>
<path d="M649.2 518.5C649.5 519.4 651.7 521.8 651.2 523.8C650.8 525.7 647.3 529.4 646.6 530.5" stroke-width="1.8"/>
<path d="M555 650C554.6 653.3 552.1 663.8 552.5 670C552.9 676.2 556.2 681.2 557.5 687.5C558.8 693.8 560 701.2 560 707.5C560 713.8 558.3 720 557.5 725C556.7 730 555 732.5 555 737.5C555 742.5 557.5 747.9 557.5 755C557.5 762.1 553.8 774.2 555 780C556.2 785.8 561.2 787.5 565 790C568.8 792.5 573.3 793.8 577.5 795C581.7 796.2 591.2 798.3 590 797.5C588.8 796.7 567.9 790 570 790C572.1 790 595.8 797.5 602.5 797.5C609.2 797.5 609.6 793.8 610 790C610.4 786.2 604.6 779.6 605 775C605.4 770.4 612.1 766.7 612.5 762.5C612.9 758.3 607.5 754.2 607.5 750C607.5 745.8 611.2 741.7 612.5 737.5C613.8 733.3 616.2 727.5 615 725C613.8 722.5 606.7 722.9 605 722.5" stroke-width="2.6"/>
<path d="M565 650C564.6 654.2 561.7 668.3 562.5 675C563.3 681.7 569.6 685 570 690C570.4 695 563.3 701.2 565 705C566.7 708.8 575.8 710.8 580 712.5C584.2 714.2 591.7 716.3 590 715.5C588.3 714.7 569.2 707.5 570 707.5C570.8 707.5 588.8 713.3 595 715.5C601.2 717.7 605.4 719.7 607.5 720.5" stroke-width="1.6"/>
<rect x="534.2" y="542.8" width="16" height="15" rx="4" stroke-width="2.7" transform="rotate(12 542.0 550.0)"/>
<path d="M544.0 546.5 a4 4 0 1 0 3.5 4.5" stroke-width="2.6"/>
<rect x="563.5" y="551.5" width="16" height="15" rx="4" stroke-width="2.7" transform="rotate(12 571.2 558.8)"/>
<path d="M573.2 555.2 a4 4 0 1 0 3.5 4.5" stroke-width="2.6"/>
<rect x="524.8" y="567.2" width="16" height="15" rx="4" stroke-width="2.7" transform="rotate(12 532.5 574.5)"/>
<path d="M534.5 571.0 a4 4 0 1 0 3.5 4.5" stroke-width="2.6"/>
<rect x="553.5" y="575.2" width="16" height="15" rx="4" stroke-width="2.7" transform="rotate(12 561.2 582.5)"/>
<path d="M563.2 579.0 a4 4 0 1 0 3.5 4.5" stroke-width="2.6"/>
<rect x="516.0" y="594.8" width="16" height="15" rx="4" stroke-width="2.7" transform="rotate(12 523.8 602.0)"/>
<path d="M525.8 598.5 a4 4 0 1 0 3.5 4.5" stroke-width="2.6"/>
<rect x="544.2" y="602.8" width="16" height="15" rx="4" stroke-width="2.7" transform="rotate(12 552.0 610.0)"/>
<path d="M554.0 606.5 a4 4 0 1 0 3.5 4.5" stroke-width="2.6"/>
<rect x="508.5" y="620.2" width="16" height="15" rx="4" stroke-width="2.7" transform="rotate(12 516.2 627.5)"/>
<path d="M518.2 624.0 a4 4 0 1 0 3.5 4.5" stroke-width="2.6"/>
<rect x="537.2" y="629.0" width="16" height="15" rx="4" stroke-width="2.7" transform="rotate(12 545.0 636.2)"/>
<path d="M547.0 632.8 a4 4 0 1 0 3.5 4.5" stroke-width="2.6"/>
<rect x="476.0" y="638.2" width="16" height="15" rx="4" stroke-width="2.7" transform="rotate(12 483.8 645.5)"/>
<path d="M485.8 642.0 a4 4 0 1 0 3.5 4.5" stroke-width="2.6"/>
<rect x="503.5" y="646.5" width="16" height="15" rx="4" stroke-width="2.7" transform="rotate(12 511.2 653.8)"/>
<path d="M513.2 650.2 a4 4 0 1 0 3.5 4.5" stroke-width="2.6"/>
<rect x="532.2" y="655.2" width="16" height="15" rx="4" stroke-width="2.7" transform="rotate(12 540.0 662.5)"/>
<path d="M542.0 659.0 a4 4 0 1 0 3.5 4.5" stroke-width="2.6"/>
<rect x="573.5" y="731.5" width="16" height="15" rx="4" stroke-width="2.7" transform="rotate(12 581.2 738.8)"/>
<path d="M583.2 735.2 a4 4 0 1 0 3.5 4.5" stroke-width="2.6"/>
<rect x="569.8" y="760.2" width="16" height="15" rx="4" stroke-width="2.7" transform="rotate(12 577.5 767.5)"/>
<path d="M579.5 764.0 a4 4 0 1 0 3.5 4.5" stroke-width="2.6"/>
<path d="M435 660C430 661.7 413.3 669.2 405 670C396.7 670.8 391.2 665.6 385 665C378.8 664.4 371.6 664 367.5 666.5C363.4 669 361.9 676.1 360.5 680C359.1 683.9 358.6 687.1 359 690C359.4 692.9 361.1 695.3 363 697.5C364.9 699.7 365.2 700.4 370.5 703C375.8 705.6 388.3 709.7 395 713C401.7 716.3 405 720.1 410.5 723C416 725.9 422.2 728 428 730.5C433.8 733 438.5 735.5 445.5 738C452.5 740.5 462.6 743.8 470 745.5C477.4 747.2 483.3 748 490 748C496.7 748 505 747.2 510 745.5C515 743.8 517 741.3 520 738C523 734.7 526.2 729.8 528 725.5C529.8 721.2 530.9 717.1 530.5 712.5C530.1 707.9 528 702.3 525.5 698C523 693.7 519.8 689.8 515.5 686.5C511.2 683.2 505.9 680.8 500 678.5C494.1 676.2 487.9 674.8 480 673C472.1 671.2 460 669.7 452.5 667.5C445 665.3 437.9 661.2 435 660" fill="#fff" stroke-width="3.4"/>
<path d="M398 672.5C397.3 675 394.2 681.7 394 687.5C393.8 693.3 394.6 702 396.5 707.5C398.4 713 404 718.3 405.5 720.5" stroke-width="1.8"/>
<path d="M468 680.5C471.7 681.3 483 683 490 685.5C497 688 505 691.3 510 695.5C515 699.7 517.9 705.5 520 710.5C522.1 715.5 523.3 720.5 522.5 725.5C521.7 730.5 516.2 738 515 740.5" stroke-width="1.5"/>
<path d="M370 700C373.3 701.2 386.7 706.2 390 707.5" stroke-width="1.4"/>
<path d="M435 656C436.7 656.4 438.3 656.9 445 658.5C451.7 660.1 465.4 663.4 475 665.5C484.6 667.6 494.6 668.3 502.5 671C510.4 673.7 516.7 677.9 522.5 681.5C528.3 685.1 534 688.9 537.5 692.5C541 696.1 542.5 697.6 543.5 703C544.5 708.4 544.1 719.2 543.8 725C543.4 730.8 541 734.2 541.2 737.5C541.5 740.8 543.1 742.9 545.5 745C547.9 747.1 554.1 747.1 555.5 750C556.9 752.9 553.8 757.5 553.8 762.5C553.8 767.5 555.2 777.1 555.5 780" stroke-width="2.8"/>
<ellipse cx="517.2" cy="784.7" rx="18.5" ry="22" stroke-width="2.4" transform="rotate(-15 517.2 784.7)"/>
<ellipse cx="513" cy="788" rx="14.5" ry="18" stroke-width="2.4" transform="rotate(-15 513 788)"/>
<ellipse cx="513.4" cy="788" rx="6.4" ry="8" fill="#000" stroke="none" transform="rotate(-15 513.4 788)"/>
<ellipse cx="512.5" cy="785.5" rx="1.2" ry="2" fill="#fff" stroke="none"/>
<line x1="581.5" y1="432" x2="581.5" y2="481" stroke-width="1.6"/>
<text x="583.5" y="425.5" font-size="25.8" text-anchor="middle" style="stroke:#000;stroke-width:0.7">6</text></g>
<g id="small"><text x="1264.5" y="463.8" font-size="29.1" text-anchor="middle" style="stroke:#000;stroke-width:0.9">3</text>
<text x="736.2" y="274.5" font-size="29.6" text-anchor="middle" style="stroke:#000;stroke-width:0.9">9</text>
<path d="M782.4 235.8 L785.8 235.8 L785.8 256.3 L782.4 256.3 L782.4 240.7 L776.9 242.0 L777.9 239.3 Z" fill="#000" stroke="none"/>
<text x="798.6" y="256.3" font-size="28.6" text-anchor="middle" style="stroke:#000;stroke-width:0.9">0</text>
<text x="836" y="746.8" font-size="29.9" text-anchor="middle" style="stroke:#000;stroke-width:0.9">8</text>
<path d="M296.0 834.6 L299.4 834.6 L299.4 856.0 L296.0 856.0 L296.0 839.7 L290.2 841.0 L291.3 838.2 Z" fill="#000" stroke="none"/>
<text x="312.8" y="856" font-size="29.9" text-anchor="middle" style="stroke:#000;stroke-width:0.9">3</text>
<path d="M1110.9 764.2 L1114.3 764.2 L1114.3 785.8 L1110.9 785.8 L1110.9 769.4 L1105.1 770.7 L1106.2 767.9 Z" fill="#000" stroke="none"/>
<text x="1127.9" y="785.8" font-size="30.2" text-anchor="middle" style="stroke:#000;stroke-width:0.9">2</text>
<path d="M1190.1 732.0 L1193.5 732.0 L1193.5 752.5 L1190.1 752.5 L1190.1 736.9 L1184.6 738.1 L1185.6 735.5 Z" fill="#000" stroke="none"/>
<path d="M1206.1 732.0 L1209.5 732.0 L1209.5 752.5 L1206.1 752.5 L1206.1 736.9 L1200.5 738.1 L1201.5 735.5 Z" fill="#000" stroke="none"/>
<path d="M1243.8 822.0 L1247.2 822.0 L1247.2 842.7 L1243.8 842.7 L1243.8 827.0 L1238.2 828.2 L1239.2 825.5 Z" fill="#000" stroke="none"/>
<text x="1260" y="842.7" font-size="28.9" text-anchor="middle" style="stroke:#000;stroke-width:0.9">2</text>
<path d="M1312.9 800.0 L1316.3 800.0 L1316.3 820.4 L1312.9 820.4 L1312.9 804.9 L1307.4 806.1 L1308.4 803.5 Z" fill="#000" stroke="none"/>
<path d="M1328.7 800.0 L1332.1 800.0 L1332.1 820.4 L1328.7 820.4 L1328.7 804.9 L1323.2 806.1 L1324.2 803.5 Z" fill="#000" stroke="none"/>
<path d="M1466.4 720.0 L1469.8 720.0 L1469.8 740.2 L1466.4 740.2 L1466.4 724.8 L1460.9 726.1 L1461.9 723.4 Z" fill="#000" stroke="none"/>
<path d="M1482.0 720.0 L1485.4 720.0 L1485.4 740.2 L1482.0 740.2 L1482.0 724.8 L1476.6 726.1 L1477.6 723.4 Z" fill="#000" stroke="none"/>
<text x="1469.5" y="801.1" font-size="29.1" text-anchor="middle" style="stroke:#000;stroke-width:0.9">7</text>
<line x1="1193" y1="452.8" x2="1255" y2="452.8" stroke-width="1.8"/>
<line x1="733.3" y1="279.6" x2="733.3" y2="317.5" stroke-width="1.8"/>
<line x1="790.9" y1="260" x2="790.9" y2="295" stroke-width="1.8"/>
<line x1="849.6" y1="735" x2="893.3" y2="735" stroke-width="1.8"/>
<line x1="327" y1="843.6" x2="373.2" y2="843.6" stroke-width="1.6"/>
<line x1="1119.6" y1="724.5" x2="1119.6" y2="758.4" stroke-width="1.8"/>
<line x1="1199.5" y1="693.8" x2="1199.5" y2="724.5" stroke-width="1.8"/>
<line x1="1253.2" y1="774.8" x2="1253.2" y2="814.3" stroke-width="1.8"/>
<line x1="1320" y1="753" x2="1320" y2="793.5" stroke-width="1.8"/>
<line x1="1401" y1="728.4" x2="1452.5" y2="728.4" stroke-width="1.8"/>
<line x1="1396.6" y1="789.7" x2="1453.6" y2="789.7" stroke-width="1.8"/>
<path d="M709 345.2 L721.4 340.8" stroke-width="1.5"/>
<path d="M751.3 329.2 L783.3 314.3" stroke-width="1.5"/>
<ellipse cx="733" cy="334.3" rx="16" ry="15.2" fill="#fff" stroke-width="5" transform="rotate(-20 733 334.3)"/>
<path d="M728.2 325.1 L739.6 322.6 L744.7 332.1 L741 345.9 L730.5 347.8 L725 337.9Z" stroke-width="2.8"/>
<path d="M733 324.1 L735.2 335 L738.9 346.7" stroke-width="2.4"/>
<ellipse cx="720.9" cy="339.7" rx="6.5" ry="7.5" fill="#000" stroke="none" transform="rotate(-15 720.9 339.7)"/>
<ellipse cx="722.1" cy="338.6" rx="2" ry="2.5" fill="#fff" stroke="none"/>
<ellipse cx="789.2" cy="313.1" rx="13.5" ry="17" stroke-width="2.6" transform="rotate(-10 789.2 313.1)"/>
<path d="M795 296.4C796.5 297.9 802.3 302.3 804 305.8C805.8 309.4 806.5 313.6 805.5 317.5C804.5 321.4 799.2 327.2 797.9 329.2" stroke-width="1.8"/>
<ellipse cx="787.4" cy="313.4" rx="5.5" ry="6.5" stroke-width="2.8"/>
<ellipse cx="787.4" cy="313.9" rx="3" ry="3.5" fill="#000" stroke="none"/>
<path d="M805 305 L869.5 281.2" stroke-width="1.5"/>
<rect x="893.5" y="703.5" width="18.5" height="71" rx="4" fill="#000" stroke="none"/>
<rect x="898.2" y="713.0" width="10.0" height="2.4" fill="#fff" stroke="none"/>
<rect x="898.2" y="718.2" width="10.0" height="2.4" fill="#fff" stroke="none"/>
<rect x="898.2" y="723.4" width="10.0" height="2.4" fill="#fff" stroke="none"/>
<rect x="899.7" y="728.6" width="7.0" height="2.4" fill="#fff" stroke="none"/>
<rect x="898.2" y="733.8" width="10.0" height="2.4" fill="#fff" stroke="none"/>
<rect x="898.2" y="739.0" width="10.0" height="2.4" fill="#fff" stroke="none"/>
<rect x="898.2" y="744.2" width="10.0" height="2.4" fill="#fff" stroke="none"/>
<rect x="899.7" y="749.4" width="7.0" height="2.4" fill="#fff" stroke="none"/>
<rect x="898.2" y="754.6" width="10.0" height="2.4" fill="#fff" stroke="none"/>
<rect x="898.2" y="759.8" width="10.0" height="2.4" fill="#fff" stroke="none"/>
<rect x="898.2" y="765.0" width="10.0" height="2.4" fill="#fff" stroke="none"/>
<rect x="899.7" y="770.2" width="7.0" height="2.4" fill="#fff" stroke="none"/>
<ellipse cx="902.5" cy="708.5" rx="6.5" ry="3" fill="#fff" stroke="none"/>
<rect x="897" y="729" width="11" height="6" rx="2" fill="#fff" stroke="none"/>
<line x1="902.7" y1="688" x2="902.7" y2="704" stroke-width="1.8"/>
<path d="M397.9 830.8 L425.3 821.8 L427 834.2 L401.4 844.4Z" fill="#000" stroke-width="1"/>
<path d="M403.1 836.8 l2 -3" stroke="#fff" stroke-width="1"/>
<path d="M406.7 835.4 l2 -3" stroke="#fff" stroke-width="1"/>
<path d="M410.3 834.0 l2 -3" stroke="#fff" stroke-width="1"/>
<path d="M413.8 832.6 l2 -3" stroke="#fff" stroke-width="1"/>
<path d="M417.4 831.3 l2 -3" stroke="#fff" stroke-width="1"/>
<ellipse cx="386.8" cy="842" rx="12.5" ry="14" stroke-width="3.6" transform="rotate(-20 386.8 842)"/>
<ellipse cx="383" cy="844" rx="7.5" ry="9" stroke-width="1.6" transform="rotate(-20 383 844)"/>
<path d="M386.8 837.6C388 838.5 392.7 840.5 393.7 842.7C394.7 845 393 849.9 392.8 851.3" stroke-width="1.6"/>
<path d="M425 826 L480 802.5 L498.2 795.2 L510.6 791.6" stroke-width="1.8"/>
<path d="M1127.1 700.5 L1167.4 684.2 L1174.5 690.3 L1173.2 697.9 L1129.6 715.6Z" fill="#000" stroke-width="1"/>
<path d="M1139.3 702.9 l1.6 -3.6" stroke="#fff" stroke-width="1.1"/>
<path d="M1142.6 701.0 l1.6 -3.6" stroke="#fff" stroke-width="1.1"/>
<path d="M1145.9 699.0 l1.6 -3.6" stroke="#fff" stroke-width="1.1"/>
<path d="M1149.1 697.1 l1.6 -3.6" stroke="#fff" stroke-width="1.1"/>
<path d="M1152.4 695.1 l1.6 -3.6" stroke="#fff" stroke-width="1.1"/>
<path d="M1155.6 693.2 l1.6 -3.6" stroke="#fff" stroke-width="1.1"/>
<path d="M1158.9 691.3 l1.6 -3.6" stroke="#fff" stroke-width="1.1"/>
<path d="M1103 709.5 L1107.8 703.7 L1115.5 700.5 L1120.6 701.2 L1125.8 705.6 L1129.6 713.3 L1128.3 719.7 L1123.2 724.2 L1117.4 724.9 L1110.4 724.9 L1104 718.5Z" fill="#fff" stroke-width="3"/>
<path d="M1112.9 707.6 L1116.8 714.6 L1116.8 724.9" stroke-width="2"/>
<path d="M1116.8 714.6 L1125.8 716.5" stroke-width="2"/>
<path d="M1174.3 689.4 L1188.6 683.3" stroke-width="1.5"/>
<ellipse cx="1198.4" cy="678.5" rx="12.5" ry="15.5" stroke-width="2.8" transform="rotate(-10 1198.4 678.5)"/>
<ellipse cx="1196.9" cy="679.6" rx="6.5" ry="8.5" fill="#000" stroke="none" transform="rotate(-10 1196.9 679.6)"/>
<path d="M1212.6 673 L1265.2 654.8" stroke-width="1.5"/>
<path d="M1257.5 756.1 L1290.6 744.1 L1296.3 749.1 L1295.3 755.4 L1260 771.2Z" fill="#000" stroke-width="1"/>
<path d="M1267.5 759.8 l1.6 -3.6" stroke="#fff" stroke-width="1.1"/>
<path d="M1270.2 758.2 l1.6 -3.6" stroke="#fff" stroke-width="1.1"/>
<path d="M1272.9 756.6 l1.6 -3.6" stroke="#fff" stroke-width="1.1"/>
<path d="M1275.5 755.0 l1.6 -3.6" stroke="#fff" stroke-width="1.1"/>
<path d="M1278.2 753.4 l1.6 -3.6" stroke="#fff" stroke-width="1.1"/>
<path d="M1280.9 751.9 l1.6 -3.6" stroke="#fff" stroke-width="1.1"/>
<path d="M1283.6 750.3 l1.6 -3.6" stroke="#fff" stroke-width="1.1"/>
<path d="M1233.4 765.1 L1238.2 759.3 L1245.9 756.1 L1251 756.8 L1256.2 761.2 L1260 768.9 L1258.7 775.3 L1253.6 779.8 L1247.8 780.5 L1240.8 780.5 L1234.4 774.1Z" fill="#fff" stroke-width="3"/>
<path d="M1243.3 763.2 L1247.2 770.2 L1247.2 780.5" stroke-width="2"/>
<path d="M1247.2 770.2 L1256.2 772.1" stroke-width="2"/>
<path d="M1294.8 749.6 L1309 743.1" stroke-width="1.5"/>
<ellipse cx="1320" cy="737.6" rx="12.5" ry="15.5" stroke-width="2.8" transform="rotate(-10 1320 737.6)"/>
<ellipse cx="1318.9" cy="738.7" rx="6.5" ry="8.5" fill="#000" stroke="none" transform="rotate(-10 1318.9 738.7)"/>
<path d="M1333.1 732.8 L1344.5 729.3" stroke-width="1.5"/>
<path d="M1374.7 752.9 L1389.6 751.2 L1390.5 784 L1374.7 784.9Z" fill="#000" stroke-width="1"/>
<path d="M1377.3 757.3 h9" stroke="#fff" stroke-width="1.1"/>
<path d="M1377.3 761.7 h9" stroke="#fff" stroke-width="1.1"/>
<path d="M1377.3 766.1 h9" stroke="#fff" stroke-width="1.1"/>
<path d="M1377.3 770.5 h9" stroke="#fff" stroke-width="1.1"/>
<path d="M1377.3 774.8 h9" stroke="#fff" stroke-width="1.1"/>
<path d="M1377.3 779.2 h9" stroke="#fff" stroke-width="1.1"/>
<path d="M1370.3 785.8C1372.3 784 1377.2 781.7 1381.3 781.4C1385.4 781.1 1392.2 782.2 1394.9 784C1397.5 785.9 1397.1 789.5 1397.1 792.4C1397.1 795.2 1397.1 799.2 1394.9 801.1C1392.6 803 1387.5 804 1383.5 803.7C1379.5 803.5 1373.1 801.3 1370.8 799.4C1368.4 797.5 1369.3 794.6 1369.2 792.4C1369.2 790.1 1368.3 787.6 1370.3 785.8Z" fill="#fff" stroke-width="2.6"/>
<path d="M1370.3 792.4 L1381.3 795.6 L1396.6 792.4" stroke-width="1.3"/>
<path d="M1381.3 795.6 L1383.5 803.3" stroke-width="1.3"/>
<line x1="1382.2" y1="589.5" x2="1382.2" y2="753" stroke-width="2.4"/>
<ellipse cx="1383.5" cy="727.7" rx="17.5" ry="9.5" stroke-width="2.8"/>
<ellipse cx="1382.4" cy="726.7" rx="7.5" ry="3.5" stroke-width="2.4"/></g>
<g id="bracket1"><path d="M1250.8 605C1252 603.6 1252.9 599.4 1258.1 596.7C1263.3 593.9 1275.3 589 1282.1 588.3C1288.9 587.7 1292.8 591.1 1298.8 592.9C1304.7 594.7 1312.5 597.4 1317.5 599.2C1322.5 601 1325.8 601.5 1329 603.8C1332.2 606 1333.5 611.2 1336.7 612.9C1339.8 614.6 1342.6 612.6 1347.7 613.8C1352.8 614.9 1361.7 618.2 1367.5 620C1373.3 621.8 1380 623.8 1382.5 624.6" stroke-width="2.4"/>
<path d="M1389.4 624.6C1393.4 625.9 1408 630.4 1413.3 632.5C1418.7 634.6 1420.3 636.3 1421.7 637.1" stroke-width="2.4"/>
<path d="M1250.8 605C1251.1 606.1 1249.4 610 1252.5 611.7C1255.6 613.3 1262.9 614.1 1269.6 615C1276.2 615.9 1285.2 615.5 1292.5 617.1C1299.8 618.7 1306.4 622 1313.3 624.6C1320.3 627.2 1327.2 630.4 1334.2 632.5C1341.1 634.6 1349.4 634.9 1355 637.1C1360.6 639.2 1364 643.1 1367.5 645.4C1371 647.8 1372.4 650.2 1375.8 651.2C1379.3 652.3 1383.5 652.6 1388.3 651.7C1393.2 650.7 1400.8 647 1405 645.4C1409.2 643.8 1412.3 642.5 1413.8 641.9" stroke-width="2.4"/>
<path d="M1255.4 609.6C1261.6 610.3 1280.1 611 1292.5 614.2C1304.9 617.3 1318.9 624.1 1330 628.3C1341.1 632.6 1352.2 636.5 1359.2 639.8C1366.1 643.1 1367.5 646.5 1371.7 648.1C1375.8 649.8 1379.3 650.3 1384.2 649.6C1389 648.9 1396 645.6 1400.8 644C1405.7 642.3 1411.2 640.5 1413.3 639.8" stroke-width="1.4"/>
<path d="M1413.8 641.9C1414.7 641 1417.9 634.1 1419.6 636.7C1421.2 639.3 1421.7 650.6 1423.8 657.5C1425.8 664.4 1429.7 672.1 1432.1 678.3C1434.5 684.6 1437.6 689.8 1438.3 695C1439.1 700.2 1438.2 706 1436.7 709.6C1435.1 713.1 1432 715 1429 716.2C1425.9 717.5 1421.7 717.5 1418.5 717.1C1415.4 716.7 1412.4 715.3 1410.2 713.8C1408 712.2 1406.2 708.9 1405.4 707.9" stroke-width="2.4"/>
<path d="M1414.4 641.9C1414.7 645.2 1414.4 654.9 1416.5 661.7C1418.5 668.4 1424.2 676.5 1426.9 682.5C1429.5 688.5 1431.6 693.3 1432.5 697.5C1433.4 701.7 1432.5 706.2 1432.5 707.9" stroke-width="1.4"/>
<path d="M1271.7 618.3C1271 619.4 1270.2 621.9 1267.5 624.6C1264.8 627.3 1258.5 631.1 1255.4 634.6C1252.4 638.1 1250.1 641.2 1249.2 645.4C1248.3 649.7 1248.6 656 1250 660C1251.4 664 1253.9 668.1 1257.5 669.2C1261.1 670.2 1265.8 667.1 1271.7 666.2C1277.5 665.4 1285.6 663.9 1292.5 664.2C1299.4 664.4 1304.7 665.6 1313.3 667.9C1322 670.3 1335.9 675.2 1344.6 678.3C1353.3 681.5 1359.1 684.8 1365.4 686.7C1371.7 688.6 1379.7 689.3 1382.5 689.8" stroke-width="2.4"/>
<path d="M1332.5 632.5C1332.8 635.3 1332.5 645 1334.2 649.2C1335.8 653.3 1339.7 656 1342.5 657.5C1345.3 659 1348.7 659.2 1350.8 657.9C1353 656.6 1355 652.4 1355.4 649.6C1355.8 646.7 1353.7 642.3 1353.3 640.8" stroke-width="2.4"/>
<path d="M1321.7 609.6C1322.7 608.9 1325.1 604.5 1327.9 605.4C1330.7 606.3 1337.3 612.4 1338.3 614.8C1339.4 617.2 1334.9 619.1 1334.2 620" stroke-width="1.6"/>
<ellipse cx="1271.7" cy="602.3" rx="7.5" ry="3.5" stroke-width="2.4"/>
<path d="M1259.2 642.9C1260.6 641.4 1265.8 640.1 1267.5 641.9C1269.2 643.6 1269.6 650.4 1269.6 653.3C1269.6 656.3 1268.9 658.7 1267.5 659.6C1266.1 660.5 1262.6 659.9 1261.2 658.5C1259.9 657.2 1259.5 653.9 1259.2 651.2C1258.8 648.6 1257.8 644.5 1259.2 642.9Z" stroke-width="2.4"/>
<path d="M1412.3 690.8C1413.8 689.4 1418.9 688.1 1420.6 689.8C1422.4 691.5 1422.9 698.5 1422.7 701.2C1422.5 704 1421.1 705.8 1419.6 706.5C1418 707.2 1414.7 706.8 1413.3 705.4C1412 704 1411.8 700.6 1411.7 698.1C1411.5 695.7 1410.8 692.2 1412.3 690.8Z" stroke-width="2.4"/>
<path d="M1230 667.9 L1263.3 653.3" stroke-width="1.5"/>
<path d="M1388.3 694 L1402.9 703.3" stroke-width="1.5"/>
<path d="M1390.4 709.6 L1417.5 697.1" stroke-width="1.5"/>
<path d="M1438.3 689.8 L1459.2 681.5" stroke-width="1.5"/>
<path d="M1388.3 624.6 L1413.3 632.5" stroke-width="1.5"/>
<ellipse cx="1382.2" cy="638.5" rx="6.5" ry="3.5" stroke-width="2.4"/>
<rect x="1479.8" y="627.3" width="32" height="29.5" fill="none" stroke="#8b0d3c" stroke-width="3.2"/>
<path d="M1494.3 632.0 L1497.7 632.0 L1497.7 652.5 L1494.3 652.5 L1494.3 636.9 L1488.8 638.1 L1489.8 635.5 Z" fill="#000" stroke="none"/>
<line x1="1421.7" y1="642.9" x2="1478.3" y2="642.9" stroke-width="1.6"/></g>
</g></svg></body></html>
